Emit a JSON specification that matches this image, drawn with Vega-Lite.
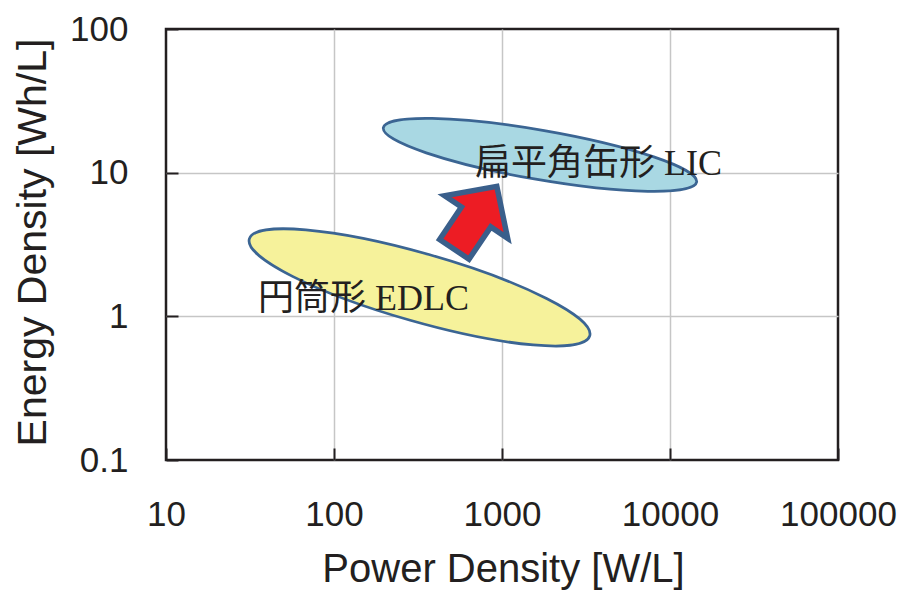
{
  "$schema": "https://vega.github.io/schema/vega-lite/v6.json",
  "width": 672,
  "height": 431,
  "autosize": {"type": "none"},
  "padding": {"left": 166, "top": 29, "right": 61, "bottom": 130},
  "background": "white",
  "config": {
    "font": "Liberation Sans",
    "view": {"stroke": "#231f20", "strokeWidth": 2.5}
  },
  "datasets": {
    "regions": [
      {"region": "EDLC", "power": 323, "energy": 1.59},
      {"region": "LIC", "power": 1683, "energy": 13.3}
    ],
    "arrow": [
      {"power": 696, "energy": 4.85}
    ],
    "labels": [
      {"label": "扁平角缶形 LIC", "power": 690, "energy": 9.64},
      {"label": "円筒形 EDLC", "power": 35.3, "energy": 1.107}
    ]
  },
  "encoding": {
    "x": {
      "field": "power",
      "type": "quantitative",
      "scale": {"type": "log", "domain": [10, 100000], "nice": false},
      "axis": {
        "values": [10, 100, 1000, 10000, 100000],
        "format": "~g",
        "title": "Power Density [W/L]",
        "titleFontSize": 40,
        "titleFontWeight": "normal",
        "titleColor": "#231f20",
        "titleX": 337,
        "titleY": 121,
        "titleBaseline": "alphabetic",
        "titleAlign": "center",
        "labelFontSize": 35,
        "labelColor": "#231f20",
        "labelPadding": 49,
        "labelFlush": false,
        "labelOverlap": false,
        "tickSize": -12,
        "tickColor": "#231f20",
        "tickWidth": 2,
        "domain": false,
        "gridColor": "#c6c6c6",
        "gridWidth": 1.5,
        "gridOpacity": {"condition": {"test": "datum.value < 11 || datum.value > 90000", "value": 0}, "value": 1}
      }
    },
    "y": {
      "field": "energy",
      "type": "quantitative",
      "scale": {"type": "log", "domain": [0.1, 100], "nice": false},
      "axis": {
        "values": [0.1, 1, 10, 100],
        "format": "~g",
        "title": "Energy Density [Wh/L]",
        "titleFontSize": 41,
        "titleFontWeight": "normal",
        "titleColor": "#231f20",
        "titleAngle": 270,
        "titleX": -121,
        "titleY": 213,
        "titleBaseline": "alphabetic",
        "titleAlign": "center",
        "labelFontSize": 35,
        "labelColor": "#231f20",
        "labelPadding": 50,
        "labelFlush": false,
        "labelOverlap": false,
        "tickSize": -12,
        "tickColor": "#231f20",
        "tickWidth": 2,
        "domain": false,
        "gridColor": "#c6c6c6",
        "gridWidth": 1.5,
        "gridOpacity": {"condition": {"test": "datum.value < 0.11 || datum.value > 90", "value": 0}, "value": 1}
      }
    }
  },
  "layer": [
    {
      "data": {"name": "regions"},
      "transform": [{"filter": "datum.region == 'EDLC'"}],
      "mark": {
        "type": "point",
        "shape": "M-170.2,-48.5A177,34.2,15.9,0,1,9.37,-32.9A177,34.2,15.9,0,1,170.2,48.5A177,34.2,15.9,0,1,-9.37,32.9A177,34.2,15.9,0,1,-170.2,-48.5Z",
        "size": 4,
        "filled": true,
        "fill": "#f6f29b",
        "stroke": "#3b6593",
        "strokeWidth": 2.75,
        "opacity": 1
      }
    },
    {
      "data": {"name": "regions"},
      "transform": [{"filter": "datum.region == 'LIC'"}],
      "mark": {
        "type": "point",
        "shape": "M-156.66,-27.2A159,24.7,9.85,0,1,4.23,-24.34A159,24.7,9.85,0,1,156.66,27.2A159,24.7,9.85,0,1,-4.23,24.34A159,24.7,9.85,0,1,-156.66,-27.2Z",
        "size": 4,
        "filled": true,
        "fill": "#a9d8e3",
        "stroke": "#3b6593",
        "strokeWidth": 2.75,
        "opacity": 1
      }
    },
    {
      "data": {"name": "arrow"},
      "mark": {
        "type": "point",
        "shape": "M0,-38L38,-1L17.7,-1L17.7,38L-17.7,38L-17.7,-1L-38,-1Z",
        "size": 4,
        "angle": 34,
        "filled": true,
        "fill": "#ed1c24",
        "stroke": "#3a5f8b",
        "strokeWidth": 5.5,
        "strokeJoin": "miter",
        "opacity": 1
      }
    },
    {
      "data": {"name": "labels"},
      "mark": {
        "type": "text",
        "align": "left",
        "baseline": "alphabetic",
        "font": "Liberation Serif, Noto Sans CJK JP",
        "fontSize": 36,
        "fill": "#231f20"
      },
      "encoding": {"text": {"field": "label", "type": "nominal"}}
    }
  ]
}
